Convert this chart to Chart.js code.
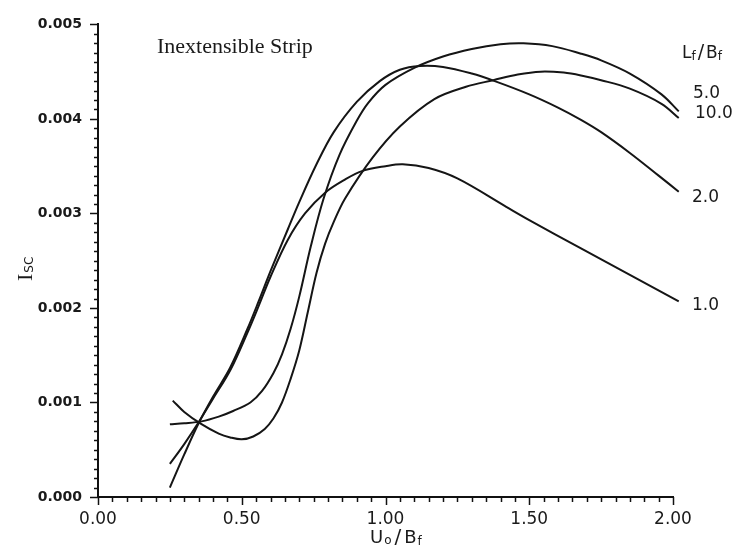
<!DOCTYPE html>
<html>
<head>
<meta charset="utf-8">
<script src="https://cdn.jsdelivr.net/npm/chart.js@4.4.1/dist/chart.umd.min.js"></script>
<style>
  html, body { margin: 0; padding: 0; background: #fff; }
  #wrap { width: 735px; height: 557px; }
</style>
</head>
<body>
<div id="wrap"><canvas id="chart" width="735" height="557"></canvas></div>
<script>
// axis ticks
const xTickValues = [0, 0.5, 1.0, 1.5, 2.0];
const yTickValues = [0, 0.001, 0.002, 0.003, 0.004, 0.005];

// Lf/Bf = 1.0
const x10 = [0.25, 0.30, 0.35, 0.40, 0.46, 0.52, 0.56, 0.60, 0.66, 0.72, 0.79, 0.86, 0.92, 1.00, 1.06, 1.15, 1.25, 1.42, 1.50, 1.68, 1.85, 2.02];
const y10 = [0.00035, 0.00056, 0.00079, 0.00104, 0.00134, 0.00174, 0.00203, 0.00233, 0.00272, 0.00300, 0.00322, 0.00336, 0.00345, 0.00350, 0.00352, 0.00348, 0.00337, 0.00307, 0.00293, 0.00263, 0.00235, 0.00207];

// Lf/Bf = 2.0
const x20 = [0.25, 0.30, 0.35, 0.40, 0.46, 0.52, 0.56, 0.60, 0.66, 0.70, 0.76, 0.82, 0.90, 0.98, 1.05, 1.12, 1.20, 1.30, 1.38, 1.50, 1.60, 1.68, 1.75, 1.85, 1.95, 2.02];
const y20 = [0.00010, 0.00045, 0.00078, 0.00106, 0.00137, 0.00178, 0.00208, 0.00239, 0.00283, 0.00312, 0.00352, 0.00386, 0.00418, 0.00440, 0.00452, 0.00456, 0.00455, 0.00448, 0.00440, 0.00426, 0.00412, 0.00399, 0.00386, 0.00364, 0.00340, 0.00323];

// Lf/Bf = 5.0
const x50 = [0.25, 0.30, 0.36, 0.42, 0.47, 0.53, 0.57, 0.61, 0.64, 0.67, 0.70, 0.74, 0.785, 0.84, 0.90, 0.94, 1.00, 1.10, 1.20, 1.30, 1.40, 1.48, 1.58, 1.68, 1.75, 1.85, 1.96, 2.02];
const y50 = [0.00077, 0.00078, 0.00080, 0.00085, 0.00091, 0.00100, 0.00112, 0.00131, 0.00151, 0.00178, 0.00212, 0.00265, 0.00316, 0.00362, 0.00398, 0.00417, 0.00436, 0.00454, 0.00466, 0.00474, 0.00479, 0.00480, 0.00477, 0.00469, 0.00462, 0.00448, 0.00426, 0.00408];

// Lf/Bf = 10.0
const x100 = [0.26, 0.30, 0.36, 0.42, 0.46, 0.50, 0.54, 0.58, 0.61, 0.64, 0.67, 0.70, 0.73, 0.76, 0.79, 0.82, 0.86, 0.955, 1.05, 1.17, 1.28, 1.375, 1.46, 1.54, 1.62, 1.68, 1.75, 1.85, 1.96, 2.02];
const y100 = [0.00102, 0.00090, 0.00077, 0.00067, 0.00063, 0.00061, 0.00064, 0.00072, 0.00083, 0.00100, 0.00125, 0.00155, 0.00196, 0.00237, 0.00268, 0.00291, 0.00316, 0.00359, 0.00392, 0.00421, 0.00434, 0.00441, 0.00447, 0.00450, 0.00449, 0.00446, 0.00441, 0.00432, 0.00416, 0.00401];

function toPoints(xs, ys) {
    return xs.map((x, i) => ({ x: x, y: ys[i] }));
}

function lineSet(label, xs, ys) {
    return {
        label: label,
        data: toPoints(xs, ys),
        showLine: true,
        borderColor: '#151515',
        borderWidth: 2,
        pointRadius: 0,
        tension: 0.35,
        clip: false
    };
}

// draw text pieces one after another (for subscripts)
function drawParts(ctx, x, y, parts) {
    let cx = x;
    parts.forEach(p => {
        ctx.font = p.font;
        ctx.fillText(p.t, cx, y + (p.dy || 0));
        cx += ctx.measureText(p.t).width + (p.pad || 0);
    });
}

const big = '17px "DejaVu Sans"';
const small = '12px "DejaVu Sans"';

// minor ticks, axis titles and curve labels
const decorations = {
    id: 'decorations',
    afterDraw(chart) {
        const ctx = chart.ctx;
        const { left, bottom } = chart.chartArea;
        const xs = chart.scales.x, ys = chart.scales.y;
        ctx.save();
        ctx.strokeStyle = '#111';
        ctx.lineWidth = 1.5;
        for (let i = 0; i <= 40; i++) {
            const px = Math.round(xs.getPixelForValue(i * 0.05)) + 0.5;
            const len = i % 10 === 0 ? 8 : 5;
            ctx.beginPath();
            ctx.moveTo(px, bottom);
            ctx.lineTo(px, bottom + len);
            ctx.stroke();
        }
        for (let i = 0; i <= 50; i++) {
            const py = Math.round(ys.getPixelForValue(i * 0.0001)) + 0.5;
            const len = i % 10 === 0 ? 8 : 4;
            ctx.beginPath();
            ctx.moveTo(left, py);
            ctx.lineTo(left - len, py);
            ctx.stroke();
        }

        ctx.fillStyle = '#1a1a1a';
        ctx.textBaseline = 'alphabetic';
        ctx.textAlign = 'left';

        ctx.font = '22px "Liberation Serif"';
        ctx.fillText('Inextensible Strip', 157, 53);

        // curve labels
        ctx.font = big;
        ctx.fillText('5.0', 693, 98);
        ctx.fillText('10.0', 695, 118);
        ctx.fillText('2.0', 692, 202);
        ctx.fillText('1.0', 692, 310);

        drawParts(ctx, 682, 58, [
            { t: 'L', font: big },
            { t: 'f', font: small, dy: 2, pad: 2 },
            { t: '/', font: '19px "DejaVu Sans"', pad: 2 },
            { t: 'B', font: big },
            { t: 'f', font: small, dy: 2 }
        ]);

        // x title
        drawParts(ctx, 370, 543, [
            { t: 'U', font: '18px "DejaVu Sans"', pad: 1 },
            { t: 'o', font: '12px "DejaVu Sans"', dy: 1, pad: 3 },
            { t: '/', font: '20px "DejaVu Sans"', pad: 3 },
            { t: 'B', font: '18px "DejaVu Sans"', pad: 1 },
            { t: 'f', font: '12px "DejaVu Sans"', dy: 2 }
        ]);

        // y title, rotated
        ctx.translate(32, 281);
        ctx.rotate(-Math.PI / 2);
        drawParts(ctx, 0, 0, [
            { t: 'I', font: '22px "Liberation Serif"', pad: 1 },
            { t: 'SC', font: '12px "DejaVu Sans"', dy: 1 }
        ]);
        ctx.restore();
    }
};

window.addEventListener('DOMContentLoaded', () => {
    const ctx = document.getElementById('chart').getContext('2d');
    new Chart(ctx, {
        type: 'scatter',
        data: {
            datasets: [
                lineSet('1.0', x10, y10),
                lineSet('2.0', x20, y20),
                lineSet('5.0', x50, y50),
                lineSet('10.0', x100, y100)
            ]
        },
        options: {
            responsive: false,
            animation: false,
            devicePixelRatio: 1,
            layout: { padding: { top: 14, right: 62, left: 0, bottom: 0 } },
            plugins: {
                legend: { display: false },
                tooltip: { enabled: false }
            },
            scales: {
                x: {
                    type: 'linear',
                    min: 0,
                    max: 2,
                    afterBuildTicks: s => { s.ticks = xTickValues.map(v => ({ value: v })); },
                    afterFit: s => { s.height = 60; },
                    ticks: {
                        autoSkip: false,
                        maxRotation: 0,
                        padding: 12,
                        color: '#1a1a1a',
                        font: { family: 'DejaVu Sans', size: 17 },
                        callback: v => Number(v).toFixed(2)
                    },
                    grid: { display: false, drawTicks: false },
                    border: { display: true, color: '#111', width: 2 }
                },
                y: {
                    type: 'linear',
                    min: 0,
                    max: 0.005,
                    afterBuildTicks: s => { s.ticks = yTickValues.map(v => ({ value: v })); },
                    afterFit: s => { s.width = 98; },
                    ticks: {
                        autoSkip: false,
                        padding: 16,
                        color: '#1a1a1a',
                        font: { family: 'DejaVu Sans', size: 14, weight: 'bold' },
                        callback: v => Number(v).toFixed(3)
                    },
                    grid: { display: false, drawTicks: false },
                    border: { display: true, color: '#111', width: 2 }
                }
            }
        },
        plugins: [decorations]
    });
});
</script>
</body>
</html>
